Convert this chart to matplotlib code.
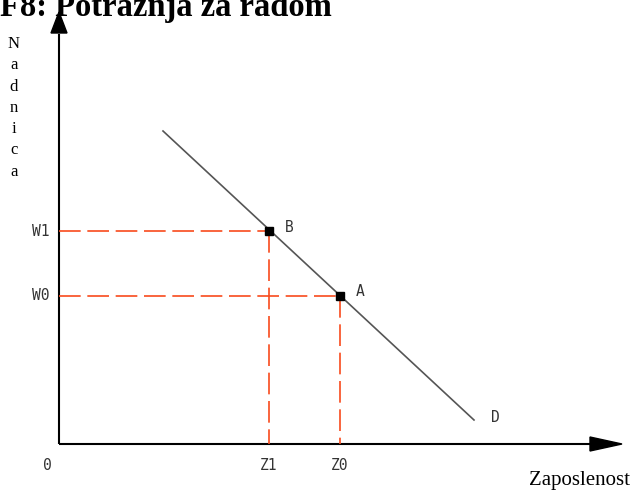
import matplotlib.pyplot as plt
from matplotlib.patches import Polygon

# data in chart units (origin at the axis corner)
DEMAND_X = [104, 415]
DEMAND_Y = [313, 24]
POINT_NAMES = ["B", "A"]
POINT_X = [210, 281]
POINT_Y = [213, 148]
WAGE_LABELS = ["W1", "W0"]
EMPL_LABELS = ["Z1", "Z0"]

RED = "#f84a1c"
GREY = "#333333"

fig = plt.figure(figsize=(6.32, 4.92), dpi=100)
ax = fig.add_axes([0, 0, 1, 1])
ax.set_xlim(-59, 573)
ax.set_ylim(-48, 444)
ax.axis("off")

# title, clipped by the top edge as in the source image
fig.text(0.0, 0.968, "F8: Potražnja za radom", family="Liberation Serif",
         fontsize=23.5, fontweight="bold", ha="left", va="baseline")

# axes with arrow heads
ax.plot([0, 0], [0, 410], color="black", lw=1.5, solid_capstyle="butt")
ax.plot([0, 535], [0, 0], color="black", lw=1.5, solid_capstyle="butt")
ax.add_patch(Polygon([[-8, 411], [8, 411], [0, 432]], closed=True, color="black"))
ax.add_patch(Polygon([[531, 7], [531, -7], [563, 0]], closed=True, color="black"))

# demand curve
ax.plot(DEMAND_X, DEMAND_Y, color="#555555", lw=1.2)
ax.text(432, 26, "D", family="DejaVu Sans Mono", fontsize=10.5, color=GREY,
        ha="left", va="center")

# dashed guides and points
for name, x, y, wl, zl in zip(POINT_NAMES, POINT_X, POINT_Y, WAGE_LABELS, EMPL_LABELS):
    ax.plot([0, x], [y, y], color=RED, lw=1.2, dashes=(13, 4))
    ax.plot([x, x], [y, 0], color=RED, lw=1.2, dashes=(13, 4))
    ax.plot(x, y, marker="s", ms=6, color="black", mec="black")
    ax.text(x + 16, y + 4, name, family="DejaVu Sans Mono", fontsize=10.5,
            color=GREY, ha="left", va="center")
    ax.text(-10, y, wl, family="DejaVu Sans Mono", fontsize=10.5, color=GREY,
            ha="right", va="center")
    ax.text(x, -21, zl, family="DejaVu Sans Mono", fontsize=10.5, color=GREY,
            ha="center", va="center")

ax.text(-12, -21, "0", family="DejaVu Sans Mono", fontsize=10.5, color=GREY,
        ha="center", va="center")

# axis titles
ax.text(571, -37, "Zaposlenost", family="Liberation Serif", fontsize=15,
        ha="right", va="center")
for i, ch in enumerate("Nadnica"):
    ax.text(-45, 400 - i * 21.3, ch, family="Liberation Serif", fontsize=12,
            ha="center", va="center")

fig.savefig("out.png", dpi=100)
